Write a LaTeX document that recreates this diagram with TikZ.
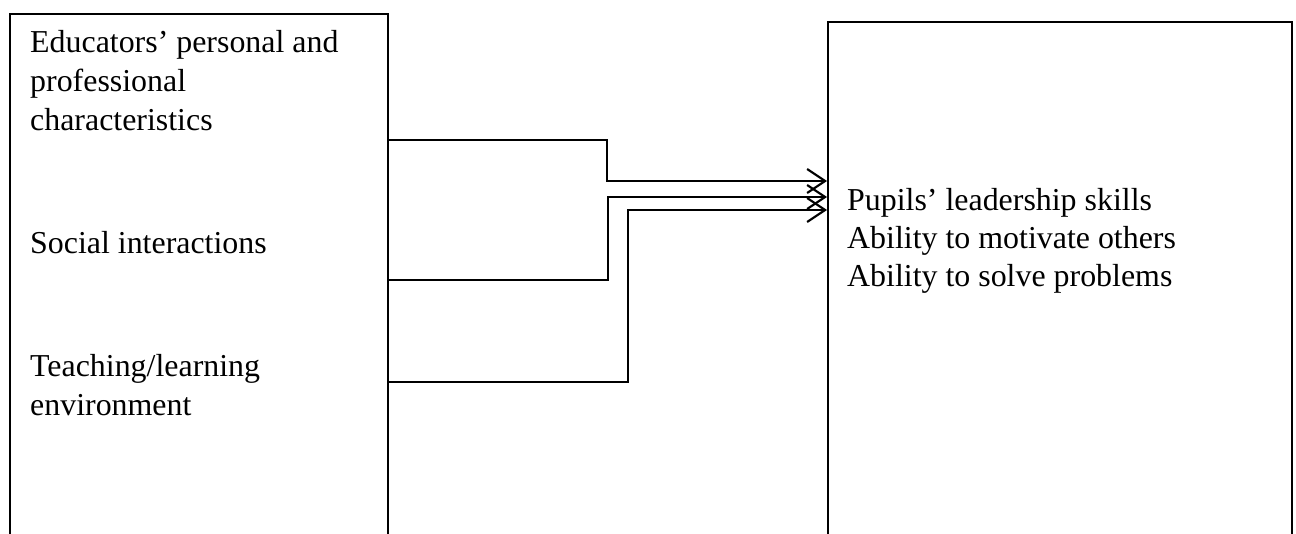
\documentclass[tikz,border=0pt]{standalone}
\usepackage{fontspec}
\setmainfont{Liberation Serif}
\usetikzlibrary{arrows.meta,calc}
\begin{document}
\begin{tikzpicture}[x=1pt,y=-1pt,
  box/.style={draw, line width=1.8pt, anchor=north west, inner sep=0pt},
  lbl/.style={anchor=base west, inner sep=0pt, font=\fontsize{31.9}{39}\selectfont},
  conn/.style={line width=2.1pt, -{Straight Barb[length=18pt,width=24pt]}}]
\useasboundingbox (0,0) rectangle (1296,533);
\begin{scope}
\clip (0,0) rectangle (1296,533);
\node[box, minimum width=378pt, minimum height=600pt] (L) at (9,13) {};
\node[box, minimum width=464pt, minimum height=600pt] (R) at (827,21) {};
\end{scope}
\node[lbl] (t1) at (30,52.3) {\begin{tabular}[t]{@{}l@{}}Educators’ personal and\\professional\\characteristics\end{tabular}};
\node[lbl] (t2) at (30,253.3) {Social interactions};
\node[lbl] (t3) at (30,376.7) {\begin{tabular}[t]{@{}l@{}}Teaching/learning\\environment\end{tabular}};
\node[lbl, font=\fontsize{31.9}{37.8}\selectfont] (t4) at (847,210.7) {\begin{tabular}[t]{@{}l@{}}Pupils’ leadership skills\\Ability to motivate others\\Ability to solve problems\end{tabular}};
\coordinate (b1) at (607,181);
\coordinate (b2) at (608,197);
\coordinate (b3) at (628,210);
\draw[conn] (L.east |- 0,140) -| (b1) -- (R.west |- b1);
\draw[conn] (L.east |- 0,280) -| (b2) -- (R.west |- b2);
\draw[conn] (L.east |- 0,382) -| (b3) -- (R.west |- b3);
\end{tikzpicture}
\end{document}
